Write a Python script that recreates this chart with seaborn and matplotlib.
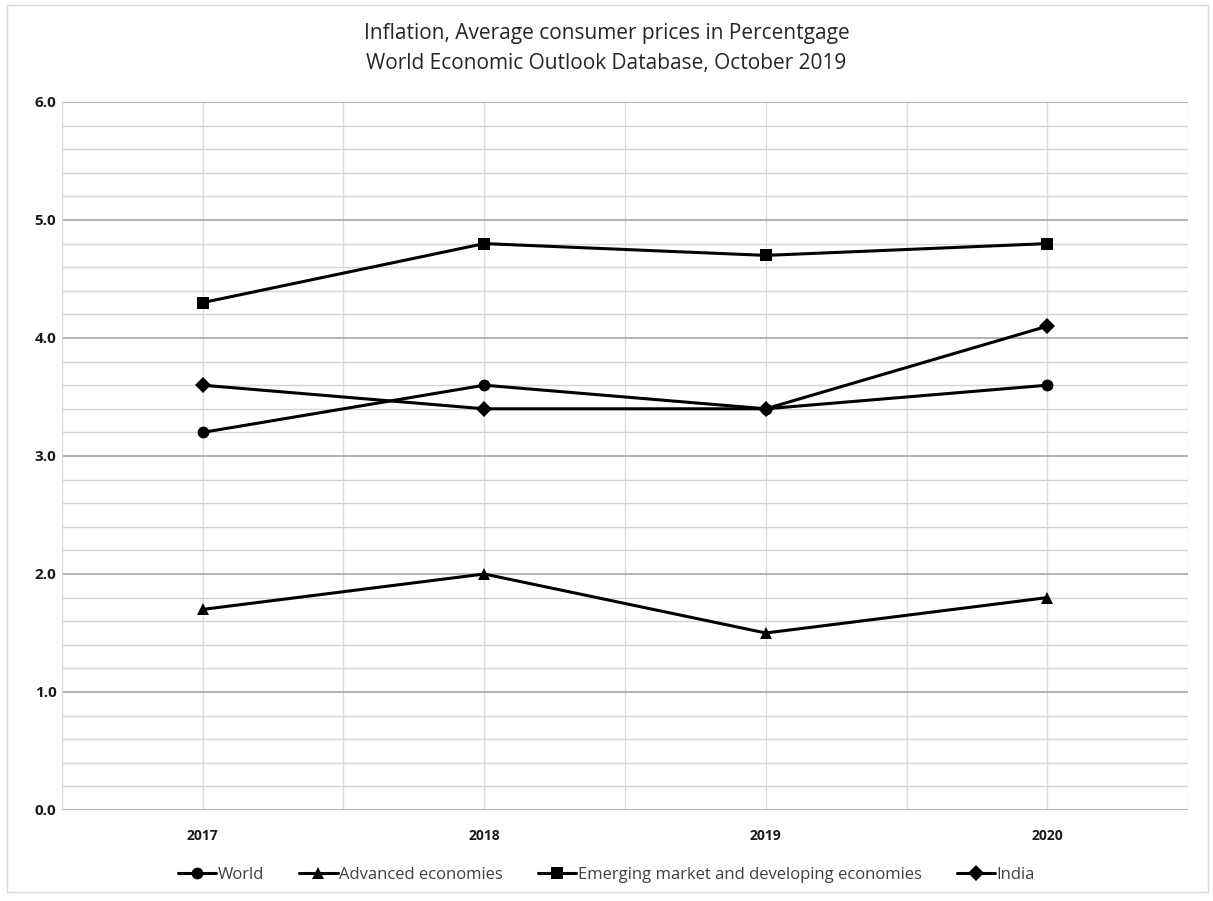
import pandas as pd
import matplotlib.pyplot as plt
import seaborn as sns
from matplotlib.ticker import MultipleLocator
from matplotlib.patches import Rectangle

# --------------------------------------------------
# Data
# --------------------------------------------------
years = [2017, 2018, 2019, 2020]
world = [3.2, 3.6, 3.4, 3.6]
advanced = [1.7, 2.0, 1.5, 1.8]
emerging = [4.3, 4.8, 4.7, 4.8]
india = [3.6, 3.4, 3.4, 4.1]

series_names = [
    "World",
    "Advanced economies",
    "Emerging market and developing economies",
    "India",
]
series_values = [world, advanced, emerging, india]

df = pd.DataFrame(
    [
        {"year": y, "value": v, "series": name}
        for name, vals in zip(series_names, series_values)
        for y, v in zip(years, vals)
    ]
)

# --------------------------------------------------
# Chart
# --------------------------------------------------
sns.set_style("white")
plt.rcParams["font.family"] = ["Open Sans", "DejaVu Sans"]

fig = plt.figure(figsize=(12.13, 9.01), dpi=100)
ax = fig.add_axes([0.0511, 0.101, 0.9283, 0.7858])

sns.lineplot(
    data=df,
    x="year",
    y="value",
    hue="series",
    style="series",
    markers={"World": "o", "Advanced economies": "^",
             "Emerging market and developing economies": "s", "India": "D"},
    dashes=False,
    palette=["black"] * 4,
    linewidth=2.2,
    markersize=8.5,
    markeredgewidth=0,
    ax=ax,
    legend=True,
)

ax.set_xlim(2016.5, 2020.5)
ax.set_ylim(0, 6)
ax.set_xticks(years)
ax.set_xticklabels([str(y) for y in years])
ax.xaxis.set_minor_locator(MultipleLocator(0.5))
ax.yaxis.set_minor_locator(MultipleLocator(0.2))
ax.set_yticks([0, 1, 2, 3, 4, 5, 6])
ax.set_yticklabels([f"{v:.1f}" for v in range(7)])

ax.grid(which="major", axis="y", color="#a6a6a6", linewidth=1.2)
ax.grid(which="minor", axis="y", color="#d4d4d4", linewidth=1.0)
ax.grid(which="both", axis="x", color="#dcdcdc", linewidth=1.0)
ax.set_axisbelow(True)

for side in ["top", "right", "bottom"]:
    ax.spines[side].set_visible(False)
ax.spines["left"].set_color("#d9d9d9")

ax.tick_params(axis="both", which="both", length=0)
ax.tick_params(axis="y", pad=4, labelsize=11)
ax.tick_params(axis="x", pad=14, labelsize=10)
for lbl in ax.get_xticklabels() + ax.get_yticklabels():
    lbl.set_fontweight("bold")
    lbl.set_color("#1a1a1a")

ax.set_xlabel("")
ax.set_ylabel("")

fig.text(0.5, 0.963, "Inflation, Average consumer prices in Percentgage",
         ha="center", va="center", fontsize=15, color="#262626")
fig.text(0.5, 0.930, "World Economic Outlook Database, October 2019",
         ha="center", va="center", fontsize=15, color="#262626")

handles, labels = ax.get_legend_handles_labels()
ax.get_legend().remove()
fig.legend(
    handles, labels,
    loc="center",
    bbox_to_anchor=(0.5, 0.029),
    ncol=4,
    frameon=False,
    fontsize=12,
    handlelength=2.3,
    columnspacing=2.1,
    handletextpad=0.1,
    labelcolor="#404040",
)

fig.patches.append(
    Rectangle((0.006, 0.01), 0.99, 0.984, transform=fig.transFigure,
              fill=False, edgecolor="#d9d9d9", linewidth=1.0)
)

fig.savefig("out.png", dpi=100)
